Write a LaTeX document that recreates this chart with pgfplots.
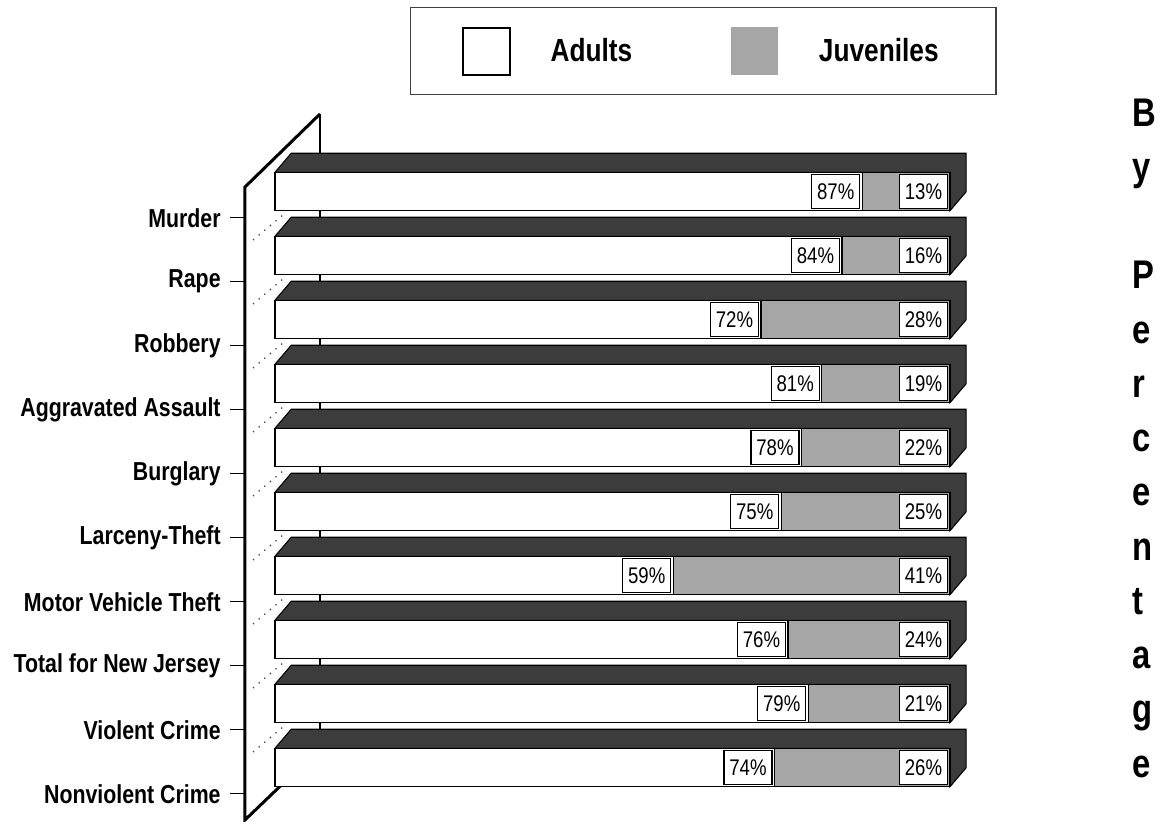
\documentclass[border=0pt]{standalone}
\usepackage{pgfplots}
\pgfplotsset{compat=1.18}
\usepackage{pgfplotstable}
\usepackage{fontspec}
\setmainfont{Liberation Sans}[FakeStretch=0.82]

\pgfplotstableread{
y adults juv tot
0 87 13 100
1 84 16 100
2 72 28 100
3 81 19 100
4 78 22 100
5 75 25 100
6 59 41 100
7 76 24 100
8 79 21 100
9 74 26 100
}\crimedata

\definecolor{facegray}{HTML}{3C3C3C}
\definecolor{juvgray}{HTML}{A6A6A6}

\begin{document}
\begin{tikzpicture}
\path[use as bounding box] (0,0) rectangle (870pt,-615.75pt);
\begin{axis}[
  at={(183.75pt,-616.4pt)}, anchor=south west,
  scale only axis, width=543.94pt, height=532.8pt,
  xmin=-4.444, xmax=103, ymin=-1.25, ymax=9.85, y dir=reverse,
  clip=false,
  hide x axis,
  axis y line*=left,
  y axis line style={draw=none},
  /pgf/number format/assume math mode=true,
  ytick={0.41,1.41,2.41,3.41,4.41,5.41,6.41,7.41,8.41,9.41},
  yticklabels={Murder,Rape,Robbery,Aggravated Assault,Burglary,Larceny-Theft,Motor Vehicle Theft,Total for New Jersey,Violent Crime,Nonviolent Crime},
  tick align=outside, major tick length=11.25pt,
  ytick style={black, line width=1pt},
  yticklabel style={font=\fontsize{19.5}{20}\selectfont\bfseries, text=black, xshift=-3.5pt},
  legend columns=2,
  legend cell align=left,
  legend style={at={(0.2275,1.1471)}, anchor=north west, draw=black!75, line width=1pt,
    inner sep=0pt, column sep=0pt, row sep=0pt,
    nodes={inner sep=0pt, font=\fontsize{24}{24}\selectfont\bfseries, text=black}},
]
% wall
\addplot[black, line width=2.25pt, line join=miter, forget plot] coordinates {(6.667,-1.211) (-4.444,-0.07) (-4.444,9.82) (6.667,8.695)};
% back gridline
\addplot[black, line width=1.1pt, forget plot] coordinates {(6.667,-1.211) (6.667,8.8)};
% dotted floor lines
\addplot[black!70, line width=1pt, dash pattern=on 1pt off 4.5pt, forget plot] coordinates {(-3.26,0.758) (1.185,0.367)};
\addplot[black!70, line width=1pt, dash pattern=on 1pt off 4.5pt, forget plot] coordinates {(-3.26,1.758) (1.185,1.367)};
\addplot[black!70, line width=1pt, dash pattern=on 1pt off 4.5pt, forget plot] coordinates {(-3.26,2.758) (1.185,2.367)};
\addplot[black!70, line width=1pt, dash pattern=on 1pt off 4.5pt, forget plot] coordinates {(-3.26,3.758) (1.185,3.367)};
\addplot[black!70, line width=1pt, dash pattern=on 1pt off 4.5pt, forget plot] coordinates {(-3.26,4.758) (1.185,4.367)};
\addplot[black!70, line width=1pt, dash pattern=on 1pt off 4.5pt, forget plot] coordinates {(-3.26,5.758) (1.185,5.367)};
\addplot[black!70, line width=1pt, dash pattern=on 1pt off 4.5pt, forget plot] coordinates {(-3.26,6.758) (1.185,6.367)};
\addplot[black!70, line width=1pt, dash pattern=on 1pt off 4.5pt, forget plot] coordinates {(-3.26,7.758) (1.185,7.367)};
\addplot[black!70, line width=1pt, dash pattern=on 1pt off 4.5pt, forget plot] coordinates {(-3.26,8.758) (1.185,8.367)};
% top and side faces
\addplot[fill=facegray, draw=black, line width=0.8pt, forget plot] coordinates {(0,-0.3) (2.4,-0.597) (102.4,-0.597) (102.4,0.003) (100,0.3) (100,-0.3)} -- cycle;
\addplot[fill=facegray, draw=black, line width=0.8pt, forget plot] coordinates {(0,0.7) (2.4,0.403) (102.4,0.403) (102.4,1.003) (100,1.3) (100,0.7)} -- cycle;
\addplot[fill=facegray, draw=black, line width=0.8pt, forget plot] coordinates {(0,1.7) (2.4,1.403) (102.4,1.403) (102.4,2.003) (100,2.3) (100,1.7)} -- cycle;
\addplot[fill=facegray, draw=black, line width=0.8pt, forget plot] coordinates {(0,2.7) (2.4,2.403) (102.4,2.403) (102.4,3.003) (100,3.3) (100,2.7)} -- cycle;
\addplot[fill=facegray, draw=black, line width=0.8pt, forget plot] coordinates {(0,3.7) (2.4,3.403) (102.4,3.403) (102.4,4.003) (100,4.3) (100,3.7)} -- cycle;
\addplot[fill=facegray, draw=black, line width=0.8pt, forget plot] coordinates {(0,4.7) (2.4,4.403) (102.4,4.403) (102.4,5.003) (100,5.3) (100,4.7)} -- cycle;
\addplot[fill=facegray, draw=black, line width=0.8pt, forget plot] coordinates {(0,5.7) (2.4,5.403) (102.4,5.403) (102.4,6.003) (100,6.3) (100,5.7)} -- cycle;
\addplot[fill=facegray, draw=black, line width=0.8pt, forget plot] coordinates {(0,6.7) (2.4,6.403) (102.4,6.403) (102.4,7.003) (100,7.3) (100,6.7)} -- cycle;
\addplot[fill=facegray, draw=black, line width=0.8pt, forget plot] coordinates {(0,7.7) (2.4,7.403) (102.4,7.403) (102.4,8.003) (100,8.3) (100,7.7)} -- cycle;
\addplot[fill=facegray, draw=black, line width=0.8pt, forget plot] coordinates {(0,8.7) (2.4,8.403) (102.4,8.403) (102.4,9.003) (100,9.3) (100,8.7)} -- cycle;
% front faces: juveniles (full 100) then adults on top
\addplot[xbar, bar shift=0pt, bar width=0.6, fill=juvgray, draw=black, line width=0.8pt, forget plot,
  point meta=explicit,
  nodes near coords={\pgfmathprintnumber{\pgfplotspointmeta}\%},
  every node near coord/.append style={anchor=east, xshift=-1.5pt, draw=black, line width=0.8pt, fill=white, text=black,
    inner sep=0pt, minimum width=36pt, minimum height=26pt, font=\fontsize{17}{17}\selectfont}]
  table[x=tot, y=y, meta=juv] {\crimedata};
\addplot[xbar, bar shift=0pt, bar width=0.6, fill=white, draw=black, line width=0.8pt, forget plot,
  point meta=explicit,
  nodes near coords={\pgfmathprintnumber{\pgfplotspointmeta}\%},
  every node near coord/.append style={anchor=east, xshift=-1.5pt, draw=black, line width=0.8pt, fill=white, text=black,
    inner sep=0pt, minimum width=36pt, minimum height=26pt, font=\fontsize{17}{17}\selectfont}]
  table[x=adults, y=y, meta=adults] {\crimedata};
% legend
\addlegendimage{legend image code/.code={\path[draw=none,fill=none] (-39pt,-32.6pt) rectangle (35.25pt,32.6pt); \draw[black, line width=1.5pt, fill=white] (0pt,-17.6pt) rectangle (35.25pt,17.6pt);}}
\addlegendentry{\makebox[165pt][l]{\hspace{30pt}Adults}}
\addlegendimage{legend image code/.code={\fill[juvgray] (0pt,-17.25pt) rectangle (34.5pt,17.25pt);}}
\addlegendentry{\makebox[163.5pt][l]{\hspace{30.75pt}Juveniles}}
\end{axis}
\node[anchor=north west, inner sep=0pt, align=left, font=\fontsize{30}{40.69}\selectfont\bfseries] at (849pt,-73.8pt)
  {B\\y\\~\\P\\e\\r\\c\\e\\n\\t\\a\\g\\e};
\end{tikzpicture}
\end{document}
